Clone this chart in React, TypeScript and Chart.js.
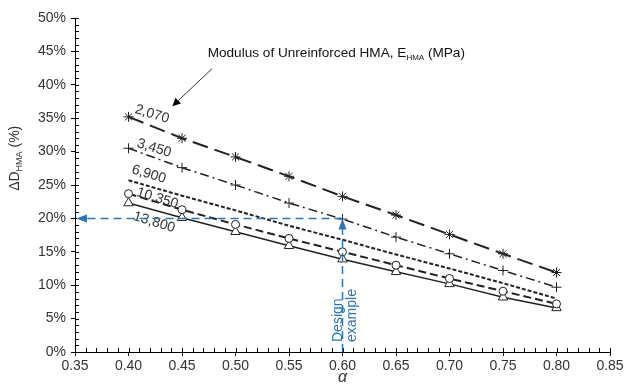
import React, { useEffect, useRef } from "react";
import { Chart, registerables } from "chart.js";

Chart.register(...registerables);

const alphas = [0.4, 0.45, 0.5, 0.55, 0.6, 0.65, 0.7, 0.75, 0.8];
const modulusLabels = ["2,070", "3,450", "6,900", "10,350", "13,800"];
const e2070 = [35.2, 32.0, 29.2, 26.3, 23.3, 20.5, 17.6, 14.7, 11.9];
const e3450 = [30.5, 27.6, 25.0, 22.3, 19.9, 17.2, 14.7, 12.2, 9.7];
const e6900 = [25.7, 23.4, 21.2, 18.9, 16.8, 14.6, 12.5, 10.3, 8.0];
const e10350 = [23.7, 21.3, 19.1, 17.0, 15.0, 13.0, 11.0, 9.1, 7.2];
const e13800 = [22.3, 20.1, 18.0, 15.9, 13.9, 12.0, 10.2, 8.2, 6.6];
// label anchor (alpha, %) for each curve
const labelAlpha = [0.422, 0.424, 0.419, 0.427, 0.424];
const labelValue = [35.6, 30.5, 26.6, 23.0, 19.4];
const xTicks = [0.35, 0.4, 0.45, 0.5, 0.55, 0.6, 0.65, 0.7, 0.75, 0.8, 0.85];
const yTicks = [0, 5, 10, 15, 20, 25, 30, 35, 40, 45, 50];
const designAlpha = 0.6;
const designValue = 20;

const FONT = "'Liberation Sans', Arial, sans-serif";
const BLUE = "#2e75b6";
const INK = "#222";

const toPts = (ys: number[]) => alphas.map((a, i) => ({ x: a, y: ys[i] }));

const overlay = {
  id: "overlay",
  afterDraw(chart: any) {
    const { ctx, scales, chartArea } = chart;
    const xs = scales.x;
    const ys = scales.y;
    ctx.save();
    // ticks inside the plot: every 1% and every 0.01
    ctx.strokeStyle = "#000";
    ctx.lineWidth = 1;
    ctx.beginPath();
    for (let v = 0; v <= 50; v += 1) {
      const py = Math.round(ys.getPixelForValue(v)) + 0.5;
      ctx.moveTo(chartArea.left, py);
      ctx.lineTo(chartArea.left + 4, py);
    }
    for (let k = 35; k <= 85; k += 1) {
      const px = Math.round(xs.getPixelForValue(k / 100)) + 0.5;
      ctx.moveTo(px, chartArea.bottom);
      ctx.lineTo(px, chartArea.bottom - 4);
    }
    ctx.stroke();

    // curve labels
    ctx.fillStyle = "#333";
    ctx.font = `14px ${FONT}`;
    ctx.textAlign = "center";
    ctx.textBaseline = "middle";
    modulusLabels.forEach((t, i) => {
      const px = xs.getPixelForValue(labelAlpha[i]);
      const py = ys.getPixelForValue(labelValue[i]);
      ctx.save();
      ctx.translate(px, py);
      ctx.rotate((17 * Math.PI) / 180);
      ctx.fillText(t, 0, 0);
      ctx.restore();
    });

    // annotation text with subscript
    ctx.textAlign = "left";
    ctx.textBaseline = "alphabetic";
    ctx.fillStyle = "#111";
    let ax = xs.getPixelForValue(0.474);
    const ay = ys.getPixelForValue(44.1);
    const main = "Modulus of Unreinforced HMA, E";
    ctx.font = `13.6px ${FONT}`;
    ctx.fillText(main, ax, ay);
    ax += ctx.measureText(main).width;
    ctx.font = `8px ${FONT}`;
    ctx.fillText("HMA", ax, ay + 3);
    ax += ctx.measureText("HMA").width;
    ctx.font = `13.6px ${FONT}`;
    ctx.fillText(" (MPa)", ax, ay);

    // black arrow
    const x1 = xs.getPixelForValue(0.478), y1 = ys.getPixelForValue(42.4);
    const x2 = xs.getPixelForValue(0.441), y2 = ys.getPixelForValue(36.8);
    drawArrow(ctx, x1, y1, x2, y2, "#333", 1, 8, 4);

    // blue design example
    const dx = xs.getPixelForValue(designAlpha);
    const dy = ys.getPixelForValue(designValue);
    const x0 = xs.getPixelForValue(0.35);
    const y0 = ys.getPixelForValue(0);
    ctx.setLineDash([8, 5]);
    ctx.strokeStyle = BLUE;
    ctx.lineWidth = 1.5;
    ctx.beginPath();
    ctx.moveTo(dx, y0);
    ctx.lineTo(dx, dy + 10);
    ctx.moveTo(dx, dy);
    ctx.lineTo(x0 + 10, dy);
    ctx.stroke();
    ctx.setLineDash([]);
    ctx.fillStyle = BLUE;
    ctx.beginPath();
    ctx.moveTo(dx, dy);
    ctx.lineTo(dx - 4, dy + 11);
    ctx.lineTo(dx + 4, dy + 11);
    ctx.closePath();
    ctx.fill();
    ctx.beginPath();
    ctx.moveTo(x0 + 1, dy);
    ctx.lineTo(x0 + 12, dy - 4);
    ctx.lineTo(x0 + 12, dy + 4);
    ctx.closePath();
    ctx.fill();

    ctx.save();
    ctx.translate(dx, y0 - 10);
    ctx.rotate(-Math.PI / 2);
    ctx.font = `14px ${FONT}`;
    ctx.textAlign = "left";
    ctx.textBaseline = "alphabetic";
    ctx.fillText("Design", 0, -1);
    ctx.fillText("example", 0, 13);
    ctx.restore();

    // y title with subscript
    ctx.save();
    ctx.fillStyle = "#333";
    ctx.translate(19, ys.getPixelForValue(29));
    ctx.rotate(-Math.PI / 2);
    ctx.textAlign = "left";
    ctx.textBaseline = "alphabetic";
    const p1 = "\u0394D";
    const p3 = " (%)";
    ctx.font = `14px ${FONT}`;
    const w1 = ctx.measureText(p1).width;
    const w3 = ctx.measureText(p3).width;
    ctx.font = `9px ${FONT}`;
    const w2 = ctx.measureText("HMA").width;
    const total = w1 + w2 + w3;
    let tx = -total / 2;
    ctx.font = `14px ${FONT}`;
    ctx.fillText(p1, tx, 0);
    tx += w1;
    ctx.font = `9px ${FONT}`;
    ctx.fillText("HMA", tx, 3);
    tx += w2;
    ctx.font = `14px ${FONT}`;
    ctx.fillText(p3, tx, 0);
    ctx.restore();

    ctx.restore();
  },
};

function drawArrow(ctx: any, x1: number, y1: number, x2: number, y2: number, color: string, lw: number, hl: number, hw: number) {
  const ang = Math.atan2(y2 - y1, x2 - x1);
  ctx.save();
  ctx.strokeStyle = color;
  ctx.fillStyle = "#000";
  ctx.lineWidth = lw;
  ctx.beginPath();
  ctx.moveTo(x1, y1);
  ctx.lineTo(x2 - Math.cos(ang) * hl, y2 - Math.sin(ang) * hl);
  ctx.stroke();
  ctx.translate(x2, y2);
  ctx.rotate(ang);
  ctx.beginPath();
  ctx.moveTo(0, 0);
  ctx.lineTo(-hl, -hw);
  ctx.lineTo(-hl, hw);
  ctx.closePath();
  ctx.fill();
  ctx.restore();
}

export default function App() {
  const ref = useRef<HTMLCanvasElement>(null);
  useEffect(() => {
    document.body.style.margin = "0";
    const canvas = ref.current!;
    const common = { borderColor: INK, pointBorderColor: INK, pointBackgroundColor: "#fff", fill: false, tension: 0 };
    const chart = new Chart(canvas, {
      type: "line",
      data: {
        datasets: [
          { ...common, label: modulusLabels[0], data: toPts(e2070), borderWidth: 2, borderDash: [16, 7], pointStyle: "star", pointRadius: 5, pointBorderWidth: 1 },
          { ...common, label: modulusLabels[1], data: toPts(e3450), borderWidth: 1.5, borderDash: [9, 4, 2, 4], pointStyle: "cross", pointRadius: 5, pointBorderWidth: 1 },
          { ...common, label: modulusLabels[2], data: toPts(e6900), borderWidth: 2, borderDash: [4, 2], pointRadius: 0 },
          { ...common, label: modulusLabels[3], data: toPts(e10350), borderWidth: 2, borderDash: [8, 4], pointStyle: "circle", pointRadius: 4, pointBorderWidth: 1 },
          { ...common, label: modulusLabels[4], data: toPts(e13800), borderWidth: 1.5, pointStyle: "triangle", pointRadius: 5.5, pointBorderWidth: 1 },
        ],
      },
      options: {
        animation: false,
        responsive: false,
        layout: { padding: { top: 18, right: 23, left: 0, bottom: 0 } },
        plugins: { legend: { display: false }, tooltip: { enabled: false } },
        scales: {
          x: {
            type: "linear",
            min: 0.35,
            max: 0.85,
            afterFit: (s: any) => { s.height = 35; },
            afterBuildTicks: (s: any) => { s.ticks = xTicks.map((v) => ({ value: v })); },
            ticks: { color: "#333", font: { family: FONT, size: 14 }, padding: 2, callback: (v: any) => Number(v).toFixed(2), maxRotation: 0, autoSkip: false },
            grid: { drawOnChartArea: false, drawTicks: true, tickLength: 4, color: "#000" },
            border: { color: "#000", width: 1 },
            title: { display: true, text: "\u03b1", font: { family: FONT, size: 16, style: "italic" }, color: "#333", padding: { top: 1, bottom: 0 } },
          },
          y: {
            min: 0,
            max: 50,
            afterFit: (s: any) => { s.width = 75; },
            afterBuildTicks: (s: any) => { s.ticks = yTicks.map((v) => ({ value: v })); },
            ticks: { color: "#333", font: { family: FONT, size: 14 }, padding: 5, callback: (v: any) => `${v}%`, autoSkip: false },
            grid: { drawOnChartArea: false, drawTicks: true, tickLength: 4, color: "#000" },
            border: { color: "#000", width: 1 },
          },
        },
      },
      plugins: [overlay],
    });
    return () => chart.destroy();
  }, []);
  return <canvas ref={ref} width={633} height={387} style={{ display: "block" }} />;
}
